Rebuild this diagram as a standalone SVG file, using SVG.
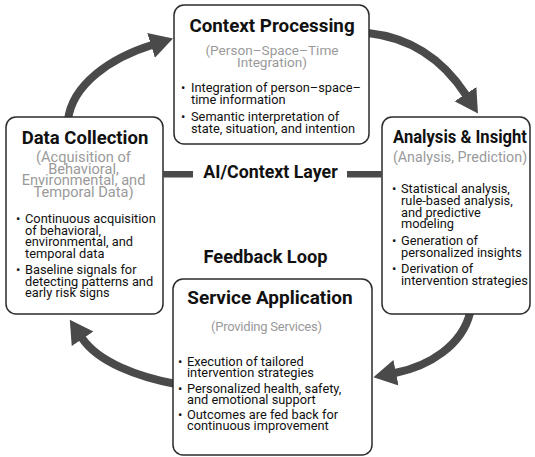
<svg xmlns="http://www.w3.org/2000/svg" width="535" height="457" viewBox="0 0 535 457">
<defs>
<marker id="ah" markerUnits="userSpaceOnUse" markerWidth="24" markerHeight="28" refX="1" refY="14" orient="auto" viewBox="0 0 24 28"><path d="M0,1 L23,14 L0,27 z" fill="#4a4a4a"/></marker>
<style>
.box{fill:#fff;stroke:#2b2b2b;stroke-width:1.5}
.title{font-family:Roboto,"Noto Sans",sans-serif;font-weight:700;font-size:18.5px;fill:#111;text-anchor:middle}
.sub{font-family:Roboto,"Noto Sans",sans-serif;font-size:13.6px;fill:#9a9a9a;text-anchor:middle}
.body{font-family:Roboto,"Noto Sans",sans-serif;font-size:12.8px;fill:#111}
.mid{font-family:Roboto,"Noto Sans",sans-serif;font-weight:700;font-size:17.8px;fill:#111;text-anchor:middle}
.arrow{fill:none;stroke:#4a4a4a;stroke-width:8;marker-end:url(#ah)}
.bar{fill:#4a4a4a}
</style>
</defs>
<rect width="535" height="457" fill="#fff"/>
<g id="connectors">
<path class="arrow" d="M68 120 C72 85 110 58 152 45"/>
<path class="arrow" d="M368 33 C405 37 440 55 466 95"/>
<path class="arrow" d="M470 313 C462 345 430 366 395 373"/>
<path class="arrow" d="M176 384 C138 377 98 362 82 338"/>
</g>
<g id="context-processing">
<rect class="box" x="174" y="5" width="195" height="139" rx="10"/>
<text class="title" x="272" y="32" style="font-size:18.8px">Context Processing</text>
<text class="sub" x="272" y="55">(Person–Space–Time</text>
<text class="sub" x="272" y="66.5">Integration)</text>
<text class="body"><tspan x="181" y="92">•</tspan><tspan x="191">Integration of person–space–</tspan></text>
<text class="body" x="191" y="104">time information</text>
<text class="body"><tspan x="181" y="121">•</tspan><tspan x="191">Semantic interpretation of</tspan></text>
<text class="body" x="191" y="133">state, situation, and intention</text>
</g>
<g id="data-collection">
<rect class="box" x="6" y="117" width="157" height="197" rx="10"/>
<text class="title" x="85" y="144">Data Collection</text>
<text class="sub" x="83.5" y="162" style="font-size:14.6px">(Acquisition of</text>
<text class="sub" x="83.5" y="173.5" style="font-size:14.6px">Behavioral,</text>
<text class="sub" x="83.5" y="185" style="font-size:14.6px">Environmental, and</text>
<text class="sub" x="83.5" y="196.5" style="font-size:14.6px">Temporal Data)</text>
<text class="body"><tspan x="16" y="223">•</tspan><tspan x="25">Continuous acquisition</tspan></text>
<text class="body" x="25" y="234.5">of behavioral,</text>
<text class="body" x="25" y="246">environmental, and</text>
<text class="body" x="25" y="257.5">temporal data</text>
<text class="body"><tspan x="16" y="274">•</tspan><tspan x="25">Baseline signals for</tspan></text>
<text class="body" x="25" y="285.5">detecting patterns and</text>
<text class="body" x="25" y="297">early risk signs</text>
</g>
<g id="analysis-insight">
<rect class="box" x="382" y="117" width="148" height="197" rx="10"/>
<text class="title" x="460" y="142.5" textLength="134" lengthAdjust="spacingAndGlyphs">Analysis &amp; Insight</text>
<text class="sub" x="460" y="162" style="font-size:14.3px">(Analysis, Prediction)</text>
<text class="body"><tspan x="392" y="193">•</tspan><tspan x="401">Statistical analysis,</tspan></text>
<text class="body" x="401" y="205">rule-based analysis,</text>
<text class="body" x="401" y="216.5">and predictive</text>
<text class="body" x="401" y="228">modeling</text>
<text class="body"><tspan x="392" y="245">•</tspan><tspan x="401">Generation of</tspan></text>
<text class="body" x="401" y="256.5">personalized insights</text>
<text class="body"><tspan x="392" y="273">•</tspan><tspan x="401">Derivation of</tspan></text>
<text class="body" x="401" y="285">intervention strategies</text>
</g>
<g id="service-application">
<rect class="box" x="173" y="279" width="199" height="176" rx="10"/>
<text class="title" x="270" y="303.5" style="font-size:19px">Service Application</text>
<text class="sub" x="266.5" y="331" style="font-size:13px" textLength="111">(Providing Services)</text>
<text class="body"><tspan x="178" y="366">•</tspan><tspan x="187">Execution of tailored</tspan></text>
<text class="body" x="187" y="377">intervention strategies</text>
<text class="body"><tspan x="178" y="393">•</tspan><tspan x="187">Personalized health, safety,</tspan></text>
<text class="body" x="187" y="404">and emotional support</text>
<text class="body"><tspan x="178" y="419">•</tspan><tspan x="187">Outcomes are fed back for</tspan></text>
<text class="body" x="187" y="430">continuous improvement</text>
</g>
<g id="ai-context-layer">
<rect class="bar" x="163" y="171" width="30" height="6.5"/>
<rect class="bar" x="347" y="171" width="35" height="6.5"/>
<text class="mid" x="270.5" y="178">AI/Context Layer</text>
</g>
<g id="feedback-loop">
<text class="mid" x="265.5" y="262.5" style="font-size:18.2px">Feedback Loop</text>
</g>
</svg>
